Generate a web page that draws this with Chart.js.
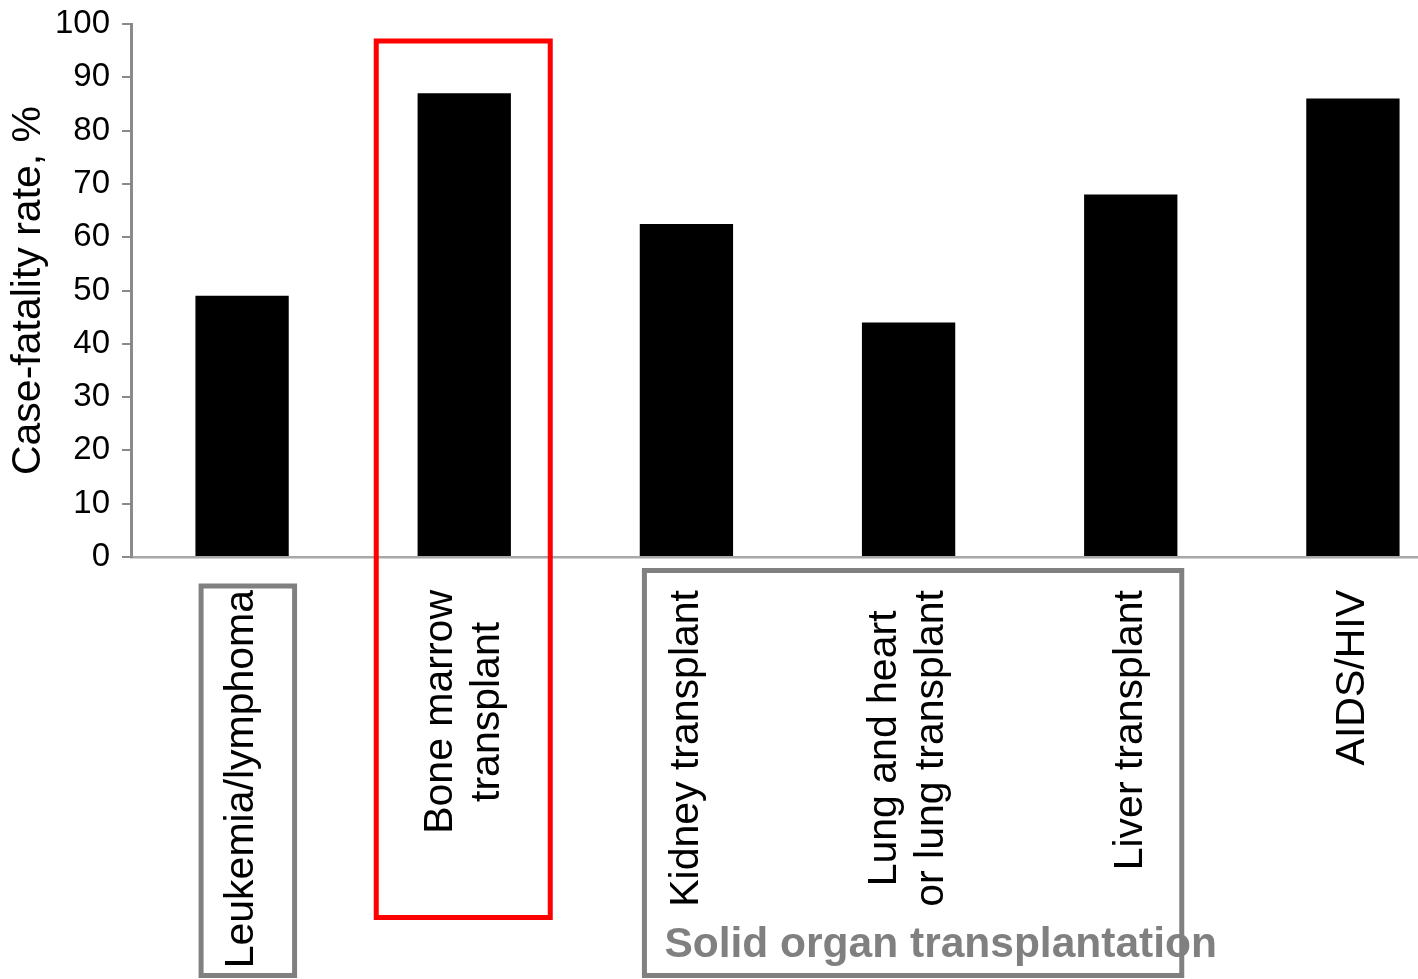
<!DOCTYPE html>
<html>
<head>
<meta charset="utf-8">
<script src="https://cdn.jsdelivr.net/npm/chart.js@4"></script>
<style>
  html, body { margin: 0; padding: 0; background: #fff; overflow: hidden; }
  #wrap { position: absolute; left: 0; top: 0; width: 1464px; height: 979px; }
</style>
</head>
<body>
<div id="wrap"><canvas id="c" width="1464" height="979"></canvas></div>
<script>
// Patient groups (multi-line names are split into lines)
const categories = [
  ["Leukemia/lymphoma"],
  ["Bone marrow", "transplant"],
  ["Kidney transplant"],
  ["Lung and heart", "or lung transplant"],
  ["Liver transplant"],
  ["AIDS/HIV"]
];
// Case-fatality rate per group, %
const fatalityRates = [49, 87, 62.5, 44, 68, 86];
// Value axis
const yMin = 0;
const yMax = 100;
const yStep = 10;
const yTitle = "Case-fatality rate, %";
const groupTitle = "Solid organ transplantation";

const FONT = '"Liberation Sans", Arial, sans-serif';

// Rotated, centre-aligned category names under the axis
const categoryLabels = {
  id: 'categoryLabels',
  afterDraw(chart) {
    const { ctx, scales: { x } } = chart;
    ctx.save();
    ctx.font = '41px ' + FONT;
    ctx.fillStyle = '#000';
    ctx.textAlign = 'center';
    ctx.textBaseline = 'middle';
    chart.data.labels.forEach((lines, i) => {
      const cx = x.getPixelForValue(i);
      const w = Math.max(...lines.map(l => ctx.measureText(l).width));
      const cy = x.top + 33 + w / 2;
      const gap = 47;
      lines.forEach((ln, j) => {
        const off = (j - (lines.length - 1) / 2) * gap;
        ctx.save();
        ctx.translate(cx + off, cy);
        ctx.rotate(-Math.PI / 2);
        ctx.fillText(ln, 0, 0);
        ctx.restore();
      });
    });
    ctx.restore();
  }
};

// Frames that group the categories, plus the group caption
const groupFrames = {
  id: 'groupFrames',
  afterDraw(chart) {
    const { ctx, scales: { x } } = chart;
    const c = i => x.getPixelForValue(i);
    ctx.save();
    ctx.lineJoin = 'miter';

    // haematological malignancy
    ctx.strokeStyle = '#808080';
    ctx.lineWidth = 5;
    ctx.strokeRect(c(0) - 41, 586, 93.5, 389.5);

    // solid organ transplants
    ctx.strokeRect(c(2) - 42, 570.5, (c(4) + 51) - (c(2) - 42), 405);

    // highlighted group
    ctx.strokeStyle = '#ff0000';
    ctx.lineWidth = 5;
    ctx.strokeRect(c(1) - 88, 41, 174, 876.5);

    ctx.font = 'bold 42.5px ' + FONT;
    ctx.fillStyle = '#808080';
    ctx.textAlign = 'left';
    ctx.textBaseline = 'alphabetic';
    ctx.fillText(groupTitle, c(2) - 22, 957);
    ctx.restore();
  }
};

new Chart(document.getElementById('c'), {
  type: 'bar',
  data: {
    labels: categories,
    datasets: [{
      data: fatalityRates,
      backgroundColor: '#000',
      borderWidth: 0,
      barPercentage: 0.42,
      categoryPercentage: 1.0
    }]
  },
  options: {
    responsive: false,
    animation: false,
    devicePixelRatio: 1,
    layout: { padding: { top: 24, right: 0, bottom: 0, left: 0 } },
    plugins: { legend: { display: false }, tooltip: { enabled: false } },
    scales: {
      x: {
        offset: true,
        grid: { display: false, drawTicks: false },
        border: { display: true, color: '#a8a8a8', width: 2.5 },
        ticks: { display: false },
        afterFit(s) { s.height = 422; }
      },
      y: {
        min: yMin,
        max: yMax,
        ticks: { stepSize: yStep, color: '#000', font: { size: 33, family: FONT }, padding: 12 },
        grid: { display: true, drawOnChartArea: false, drawTicks: true, tickLength: 9, color: '#8a8a8a', lineWidth: 2 },
        border: { display: true, color: '#8a8a8a', width: 3 },
        title: { display: true, text: yTitle, color: '#000', font: { size: 41, family: FONT }, padding: { top: 4, bottom: 0 } },
        afterFit(s) {
          s.width = 131;
          s.paddingTop = 0;
          s.paddingBottom = 0;
        }
      }
    }
  },
  plugins: [categoryLabels, groupFrames]
});
</script>
</body>
</html>
